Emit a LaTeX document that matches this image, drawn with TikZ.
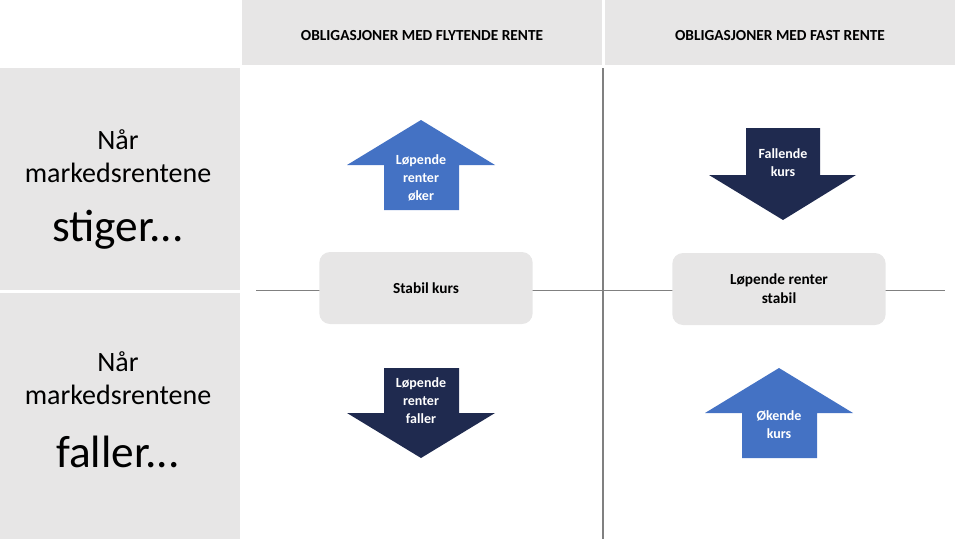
\documentclass[tikz,border=0pt]{standalone}
\usepackage{fontspec}
\setmainfont{Carlito}
\definecolor{cellgray}{HTML}{E7E6E6}
\definecolor{upblue}{HTML}{4472C4}
\definecolor{navy}{HTML}{1F2A4F}
\definecolor{linegray}{HTML}{808080}
\newcommand{\threedots}{.\kern0pt.\kern0pt.}
\begin{document}
\begin{tikzpicture}[x=0.75pt,y=-0.75pt,
  cell/.style={fill=cellgray,draw=none},
  head/.style={font=\bfseries\fontsize{11.5}{13}\selectfont,text=black},
  side/.style={align=center,font=\fontsize{21}{25}\selectfont},
  big/.style={font=\fontsize{34}{40}\selectfont},
  pill/.style={fill=cellgray,rounded corners=8pt,minimum width=160pt,minimum height=54pt,align=center,font=\bfseries\fontsize{11.5}{14}\selectfont},
  lbl/.style={text=white,align=center,font=\bfseries\fontsize{10.5}{13.5}\selectfont}]
  \useasboundingbox (0,0) rectangle (955,539);
  % header and side cells
  \fill[cell] (242,0) rectangle (602,65);
  \fill[cell] (605,0) rectangle (955,65);
  \fill[cell] (0,68) rectangle (240,290);
  \fill[cell] (0,293) rectangle (240,539);
  \node[head] (float) at (422,36) {OBLIGASJONER MED FLYTENDE RENTE};
  \node[head] (fixed) at (780,36) {OBLIGASJONER MED FAST RENTE};
  \node[side] (rise) at (118,156) {Når\\markedsrentene};
  \node[big] (stiger) at (118,230) {stiger\threedots};
  \node[side] (fall) at (118,378) {Når\\markedsrentene};
  \node[big] (faller) at (118,452) {faller\threedots};
  % grid lines
  \draw[linegray,thick] (603,68) -- (603,539);
  \draw[linegray] (256,290) -- (945,290);
  % boxes
  \node[pill] (stabil) at (426,288) {Stabil kurs};
  \node[pill] (lopstab) at (779,289) {Løpende renter\\stabil};
  % arrows
  \fill[upblue] (421,120) -- (495,165) -- (459,165) -- (459,210) -- (384,210) -- (384,165) -- (347,165) -- cycle;
  \node[lbl] (lopok) at (421,178) {Løpende\\renter\\øker};
  \fill[navy] (746,128) -- (820,128) -- (820,175) -- (856,175) -- (783,220) -- (709,175) -- (746,175) -- cycle;
  \node[lbl] (fallkurs) at (783,163) {Fallende\\kurs};
  \fill[navy] (384,368) -- (459,368) -- (459,413) -- (495,413) -- (421,458) -- (347,413) -- (384,413) -- cycle;
  \node[lbl] (lopfall) at (421,401) {Løpende\\renter\\faller};
  \fill[upblue] (779,368) -- (853,413) -- (817,413) -- (817,458) -- (742,458) -- (742,413) -- (705,413) -- cycle;
  \node[lbl] (okkurs) at (779,425) {Økende\\kurs};
\end{tikzpicture}
\end{document}
